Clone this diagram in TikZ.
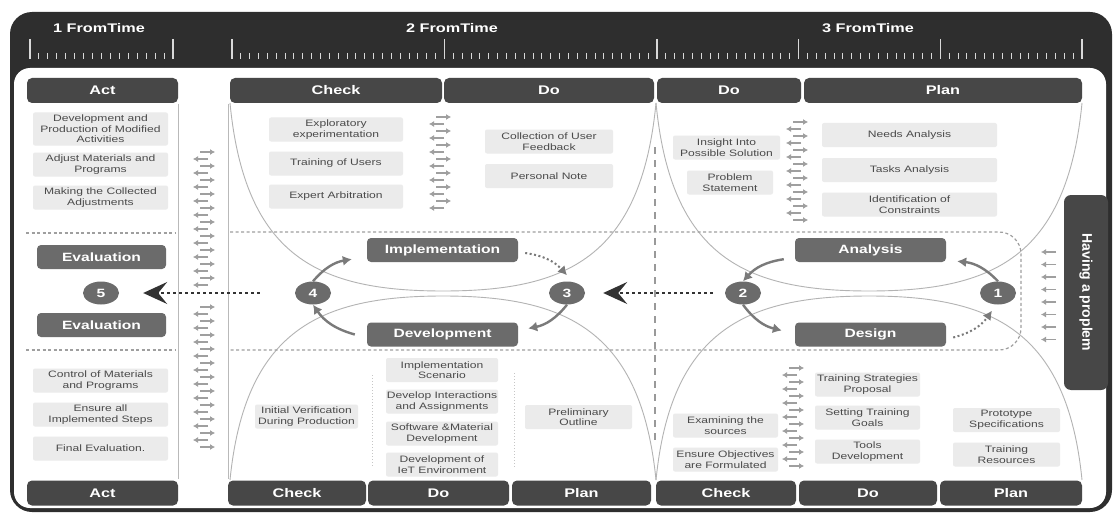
\documentclass[tikz,border=0pt]{standalone}
\usepackage{fontspec}
\setmainfont{Liberation Sans}[FakeStretch=1.3]
\newfontfamily\vertfont{Liberation Sans}
\usepackage{xcolor}
\usepackage{tikz}
\usetikzlibrary{arrows.meta,shapes.geometric}

\definecolor{barcol}{HTML}{2E2E2E}
\definecolor{hdrcol}{HTML}{474747}
\definecolor{midcol}{HTML}{6B6B6B}
\definecolor{boxcol}{HTML}{EBEBEB}
\definecolor{txtcol}{HTML}{4A4A4A}
\definecolor{curvecol}{HTML}{B3B3B3}
\definecolor{arrcol}{HTML}{7A7A7A}

\newcommand{\arrowstack}[4]{%
  \foreach \k in {0,...,#4}{%
    \ifodd\k\relax
      \draw[stackarr] ({#1+4},{#2+\k*#3}) -- ({#1-11},{#2+\k*#3});
    \else
      \draw[stackarr] ({#1-4},{#2+\k*#3}) -- ({#1+11},{#2+\k*#3});
    \fi}}

\begin{document}
\begin{tikzpicture}[x=1pt,y=-1pt,
  hdr/.style={fill=hdrcol,text=white,rounded corners=5pt,inner sep=0pt,minimum height=25pt,font=\bfseries\fontsize{12.5}{13}\selectfont},
  lbox/.style={fill=boxcol,text=txtcol,rounded corners=2pt,inner sep=0pt,minimum height=24pt,align=center,font=\fontsize{9.3}{10.6}\selectfont},
  mbox/.style={fill=midcol,text=white,rounded corners=4pt,inner sep=0pt,minimum width=151pt,minimum height=24pt,font=\bfseries\fontsize{12}{12}\selectfont},
  num/.style={ellipse,fill=midcol,text=white,inner sep=0pt,minimum width=36pt,minimum height=23pt,font=\bfseries\fontsize{12}{12}\selectfont},
  timelbl/.style={text=white,font=\bfseries\fontsize{12.5}{13}\selectfont},
  curve/.style={draw=curvecol,line width=0.9pt},
  colline/.style={draw=gray!55,line width=0.8pt},
  dashline/.style={draw=gray!75,line width=1.2pt,dash pattern=on 3pt off 2.5pt},
  vdash/.style={draw=gray!80,line width=2pt,dash pattern=on 7pt off 6pt},
  dotline/.style={draw=gray!45,line width=1pt,dash pattern=on 1pt off 2pt},
  stackarr/.style={draw=gray!75,line width=1.8pt,-{Latex[length=5pt,width=6pt]}},
  tick/.style={draw=white!85!black,line width=1pt},
  bigtick/.style={draw=white!85!black,line width=1.4pt},
  flow/.style={color=arrcol,line width=2.4pt,-{Latex[length=9pt,width=10pt]}},
  dotflow/.style={flow,line width=2pt,dash pattern=on 2pt off 2.5pt},
  bigarrow/.style={color=black!80,line width=1.3pt,dash pattern=on 3pt off 3pt,-{Stealth[length=24pt,width=22pt,inset=9pt]}}]
\useasboundingbox (0,0) rectangle (1118,516);
% frame and time bar
\fill[barcol,rounded corners=22pt] (10,12) rectangle (1112,512);
\fill[white,rounded corners=16pt] (14,68) rectangle (1106,508);
\node[timelbl] (t1) at (99,28) {1 FromTime};
\node[timelbl] (t2) at (452,28) {2 FromTime};
\node[timelbl] (t3) at (868,28) {3 FromTime};
\foreach \k in {0,...,16} \draw[tick] ({30+\k*8.9375},53) -- ({30+\k*8.9375},59);
\foreach \k in {0,16} \draw[bigtick] ({30+\k*8.9375},39) -- ({30+\k*8.9375},59);
\foreach \k in {0,...,96} \draw[tick] ({232+\k*8.8542},53) -- ({232+\k*8.8542},59);
\foreach \k in {0,24,48,64,80,96} \draw[bigtick] ({232+\k*8.8542},39) -- ({232+\k*8.8542},59);
%
\draw[curve] (230,103) .. controls (245,258) and (320,291) .. (443,291) .. controls (566,291) and (641,258) .. (656,103);
\draw[curve] (656,103) .. controls (671,258) and (746,291) .. (869,291) .. controls (992,291) and (1067,258) .. (1082,103);
\draw[curve] (230,480) .. controls (245,330) and (320,296) .. (443,296) .. controls (566,296) and (641,330) .. (656,480);
\draw[curve] (656,480) .. controls (671,330) and (746,296) .. (869,296) .. controls (992,296) and (1067,330) .. (1082,480);
\draw[colline] (178,104) -- (178,479);
\draw[colline] (228,104) -- (228,479);
\draw[dashline] (26,233) -- (175,233);
\draw[dashline] (26,350) -- (175,350);
\draw[dashline,rounded corners=22pt] (230,232) -- (1021,232) -- (1021,350) -- (230,350);
\draw[vdash] (655,147) -- (655,440);
\draw[dotline] (372,375) -- (372,467);
\draw[dotline] (514,373) -- (514,467);
%
\arrowstack{204}{152}{7}{19}
\arrowstack{204}{307}{7}{20}
\arrowstack{440}{117}{7}{13}
\arrowstack{797}{122}{7}{14}
\arrowstack{793}{368}{7}{14}
\foreach \k in {0,...,7} \draw[stackarr] (1056,{252+\k*12.5}) -- (1041,{252+\k*12.5});
%
\node[hdr,minimum width=151pt] (actT) at (102.5,90.5) {Act};
\node[hdr,minimum width=212pt] (chkT) at (336,90.5) {Check};
\node[hdr,minimum width=210pt] (doT1) at (549,90.5) {Do};
\node[hdr,minimum width=144pt] (doT2) at (729,90.5) {Do};
\node[hdr,minimum width=278pt] (planT) at (943,90.5) {Plan};
\node[hdr,minimum width=151pt] (actB) at (102.5,493) {Act};
\node[hdr,minimum width=138pt] (chkB1) at (297,493) {Check};
\node[hdr,minimum width=141pt] (doB1) at (438.5,493) {Do};
\node[hdr,minimum width=139pt] (planB1) at (581.5,493) {Plan};
\node[hdr,minimum width=140pt] (chkB2) at (726,493) {Check};
\node[hdr,minimum width=138pt] (doB2) at (868,493) {Do};
\node[hdr,minimum width=142pt] (planB2) at (1011,493) {Plan};
\node[hdr,rotate=-90,rounded corners=7pt,minimum width=195pt,minimum height=44pt,font=\vertfont\bfseries\fontsize{14}{14}\selectfont] (prob) at (1086,292.5) {Having a proplem};
%
\node[lbox,minimum width=135pt,minimum height=33pt] (act1) at (100.5,129) {Development and\\Production of Modified\\Activities};
\node[lbox,minimum width=135pt] (act2) at (100.5,164.5) {Adjust Materials and\\Programs};
\node[lbox,minimum width=135pt] (act3) at (100.5,197.5) {Making the Collected\\Adjustments};
\node[lbox,minimum width=135pt] (act4) at (100.5,380.5) {Control of Materials\\and Programs};
\node[lbox,minimum width=135pt] (act5) at (100.5,414.5) {Ensure all\\Implemented Steps};
\node[lbox,minimum width=135pt] (act6) at (100.5,448.5) {Final Evaluation.};
\node[lbox,minimum width=134pt] (chk1) at (336,129.5) {Exploratory\\experimentation};
\node[lbox,minimum width=134pt] (chk2) at (336,163.5) {Training of Users};
\node[lbox,minimum width=134pt] (chk3) at (336,196.5) {Expert Arbitration};
\node[lbox,minimum width=128pt] (do1) at (549,141.5) {Collection of User\\Feedback};
\node[lbox,minimum width=128pt] (do2) at (549,176) {Personal Note};
\node[lbox,minimum width=107pt] (do3) at (726.5,147.5) {Insight Into\\Possible Solution};
\node[lbox,minimum width=86pt] (do4) at (730,182.5) {Problem\\Statement};
\node[lbox,minimum width=175pt] (plan1) at (909.5,135) {Needs Analysis};
\node[lbox,minimum width=175pt] (plan2) at (909.5,170) {Tasks Analysis};
\node[lbox,minimum width=175pt] (plan3) at (909.5,204.5) {Identification of\\Constraints};
\node[lbox,minimum width=103pt] (chk4) at (306.5,416.5) {Initial Verification\\During Production};
\node[lbox,minimum width=112pt] (do5) at (442,370) {Implementation\\Scenario};
\node[lbox,minimum width=112pt] (do6) at (442,401.5) {Develop Interactions\\and Assignments};
\node[lbox,minimum width=112pt] (do7) at (442,433.5) {Software \&Material\\Development};
\node[lbox,minimum width=112pt] (do8) at (442,464.5) {Development of\\IeT Environment};
\node[lbox,minimum width=107pt] (plan4) at (578.5,417) {Preliminary\\Outline};
\node[lbox,minimum width=105pt] (chk5) at (725.5,425.5) {Examining the\\sources};
\node[lbox,minimum width=105pt] (chk6) at (725.5,459.5) {Ensure Objectives\\are Formulated};
\node[lbox,minimum width=105pt] (do9) at (867.5,384.5) {Training Strategies\\Proposal};
\node[lbox,minimum width=105pt] (do10) at (867.5,417.5) {Setting Training\\Goals};
\node[lbox,minimum width=105pt] (do11) at (867.5,451.5) {Tools\\Development};
\node[lbox,minimum width=107pt] (plan5) at (1006.5,420) {Prototype\\Specifications};
\node[lbox,minimum width=107pt] (plan6) at (1006.5,454.5) {Training\\Resources};
%
\node[mbox,minimum width=129pt] (ev1) at (101.5,257) {Evaluation};
\node[mbox,minimum width=129pt] (ev2) at (101.5,325) {Evaluation};
\node[mbox] (impl) at (442.5,250) {Implementation};
\node[mbox] (dev) at (442.5,334.5) {Development};
\node[mbox] (ana) at (870.5,250) {Analysis};
\node[mbox] (des) at (870.5,334.5) {Design};
\node[num] (n5) at (101,293) {5};
\node[num] (n4) at (313,293) {4};
\node[num] (n3) at (567,293) {3};
\node[num] (n2) at (743,293) {2};
\node[num] (n1) at (998,293) {1};
%
\path[flow]
 (n4.north) edge[bend left=20] ([xshift=-15pt,yshift=3pt]impl.south west)
 ([xshift=-12pt]dev.west) edge[bend left=20] (n4.south)
 (n3.south) edge[bend left=20] ([xshift=10pt,yshift=6pt]dev.east)
 ([xshift=-11pt,yshift=3pt]ana.south west) edge[bend right=20] (n2.north)
 (n2.south) edge[bend right=20] ([xshift=-13pt,yshift=4pt]des.west)
 (n1.north) edge[bend right=20] ([xshift=11pt,yshift=1pt]ana.south east);
\path[dotflow]
 ([xshift=7pt,yshift=-3pt]impl.east) edge[bend left=20] ([yshift=6pt]n3.north)
 ([xshift=7pt,yshift=-3pt]des.east) edge[bend right=20] ([xshift=-6pt,yshift=-6pt]n1.south);
\path[bigarrow]
 ([xshift=-35pt]n4.west) edge ([xshift=24pt]n5.east)
 ([xshift=-12pt]n2.west) edge ([xshift=18pt]n3.east);
\end{tikzpicture}
\end{document}
